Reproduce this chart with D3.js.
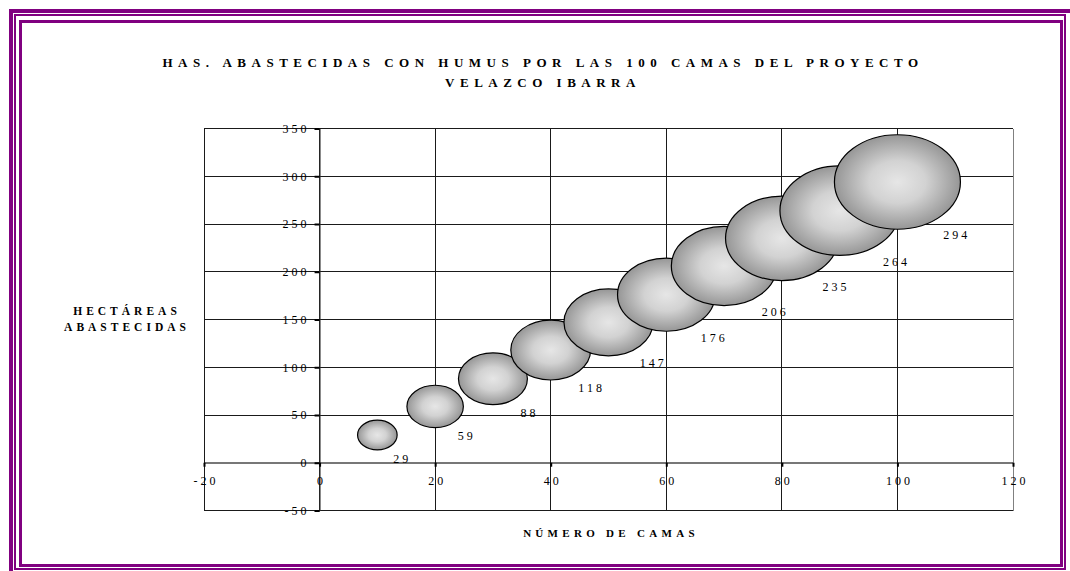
<!DOCTYPE html>
<html>
<head>
<meta charset="utf-8">
<script src="https://cdn.jsdelivr.net/npm/d3@7/dist/d3.min.js"></script>
<style>
  body { margin: 0; background: #fff; }
  svg { display: block; }
  text { font-family: "Liberation Serif", "Times New Roman", serif; fill: #000; }
</style>
</head>
<body>
<svg id="chart" width="1070" height="571"></svg>
<script>
// Number of beds in the project and hectares each set can supply with humus
const camas = [10, 20, 30, 40, 50, 60, 70, 80, 90, 100];
const hectareas = [29, 59, 88, 118, 147, 176, 206, 235, 264, 294];
// Bubble size series
const tamano = [29, 59, 88, 118, 147, 176, 206, 235, 264, 294];

const xTicks = [-20, 0, 20, 40, 60, 80, 100, 120];
const yTicks = [-50, 0, 50, 100, 150, 200, 250, 300, 350];

const titleLines = ["HAS. ABASTECIDAS CON HUMUS POR LAS 100 CAMAS DEL PROYECTO", "VELAZCO IBARRA"];
const yTitleLines = ["HECTÁREAS", "ABASTECIDAS"];
const xTitle = "NÚMERO DE CAMAS";

const svg = d3.select("#chart");
const purple = "#800080";

// Triple decorative frame
const frame = svg.append("g").attr("fill", "none").attr("stroke", purple).attr("shape-rendering", "crispEdges");
frame.append("rect").attr("x", 11).attr("y", 11).attr("width", 1061).attr("height", 564).attr("stroke-width", 4);
frame.append("rect").attr("x", 15).attr("y", 15).attr("width", 1050).attr("height", 553.5).attr("stroke-width", 2);
frame.append("rect").attr("x", 20.5).attr("y", 21).attr("width", 1040.5).attr("height", 544.5).attr("stroke-width", 3);

// Scales
const x = d3.scaleLinear().domain([-20, 120]).range([204, 1013]);
const y = d3.scaleLinear().domain([-50, 350]).range([510.5, 128.5]);
const rx = d3.scaleSqrt().domain([0, 294]).range([0, 63]);
const aspect = 0.75;

// Gridlines
const grid = svg.append("g").attr("stroke", "#1a1a1a").attr("stroke-width", 1).attr("shape-rendering", "crispEdges");
grid.selectAll("line.h").data(yTicks).join("line").attr("class", "h")
  .attr("x1", x(-20)).attr("x2", x(120))
  .attr("y1", d => y(d)).attr("y2", d => y(d))
  .attr("stroke", d => d === 0 ? "#777" : null)
  .attr("stroke-width", d => d === 0 ? 2 : null);
grid.selectAll("line.v").data(xTicks).join("line").attr("class", "v")
  .attr("y1", y(-50)).attr("y2", y(350))
  .attr("x1", d => x(d)).attr("x2", d => x(d))
  .attr("stroke", d => d === 120 ? "#808080" : null);

const fmt = d => String(d);

// Axes through the origin
const yAxis = d3.axisLeft(y).tickValues(yTicks).tickSize(5).tickPadding(5).tickFormat(fmt);
const gy = svg.append("g").attr("transform", `translate(${x(0)},0)`).call(yAxis);
gy.select(".domain").attr("stroke", "#333");
gy.selectAll(".tick line").attr("stroke", "#000").attr("stroke-width", 2);
gy.selectAll(".tick text").attr("font-size", 12).attr("letter-spacing", "3px")
  .attr("font-family", "Liberation Serif, serif").attr("fill", "#222");

const xAxis = d3.axisBottom(x).tickValues(xTicks).tickSize(4).tickPadding(10).tickFormat(fmt);
const gx = svg.append("g").attr("transform", `translate(0,${y(0)})`).call(xAxis);
gx.select(".domain").remove();
gx.selectAll(".tick line").attr("stroke", "#000").attr("stroke-width", 2);
gx.selectAll(".tick text").attr("font-size", 12).attr("letter-spacing", "3px")
  .attr("font-family", "Liberation Serif, serif").attr("fill", "#222")
  .attr("dx", "1.5px");

// Bubble shading
const defs = svg.append("defs");
const grad = defs.append("radialGradient").attr("id", "bubbleFill").attr("cx", "50%").attr("cy", "50%").attr("r", "50%");
grad.append("stop").attr("offset", "0%").attr("stop-color", "#e6e6e6");
grad.append("stop").attr("offset", "45%").attr("stop-color", "#d2d2d2");
grad.append("stop").attr("offset", "100%").attr("stop-color", "#969696");

const pts = camas.map((c, i) => ({ c, h: hectareas[i], s: tamano[i] }));

svg.append("g").selectAll("ellipse").data(pts).join("ellipse")
  .attr("cx", d => x(d.c)).attr("cy", d => y(d.h))
  .attr("rx", d => rx(d.s)).attr("ry", d => rx(d.s) * aspect)
  .attr("fill", "url(#bubbleFill)").attr("stroke", "#000").attr("stroke-width", 1.2);

// Value labels below-right of each bubble
svg.append("g").selectAll("text").data(pts).join("text")
  .attr("x", d => x(d.c) + rx(d.s) * 0.8 + 9)
  .attr("y", d => y(d.h) + rx(d.s) * aspect * 0.9 + 12)
  .attr("text-anchor", "middle").attr("dominant-baseline", "middle")
  .attr("font-size", 12).attr("letter-spacing", "3px").attr("fill", "#222")
  .text(d => d.h);

// Titles
svg.append("g").selectAll("text").data(titleLines).join("text")
  .attr("x", 543).attr("y", (d, i) => 67 + i * 20)
  .attr("text-anchor", "middle").attr("font-weight", "bold").attr("font-size", 13)
  .attr("letter-spacing", "5.5px")
  .text(d => d);

svg.append("g").selectAll("text").data(yTitleLines).join("text")
  .attr("x", 127).attr("y", (d, i) => 315 + i * 16)
  .attr("text-anchor", "middle").attr("font-weight", "bold").attr("font-size", 11.5)
  .attr("letter-spacing", "4px")
  .text(d => d);

svg.append("text")
  .attr("x", 611).attr("y", 537)
  .attr("text-anchor", "middle").attr("font-weight", "bold").attr("font-size", 11)
  .attr("letter-spacing", "4.3px")
  .text(xTitle);
</script>
</body>
</html>
